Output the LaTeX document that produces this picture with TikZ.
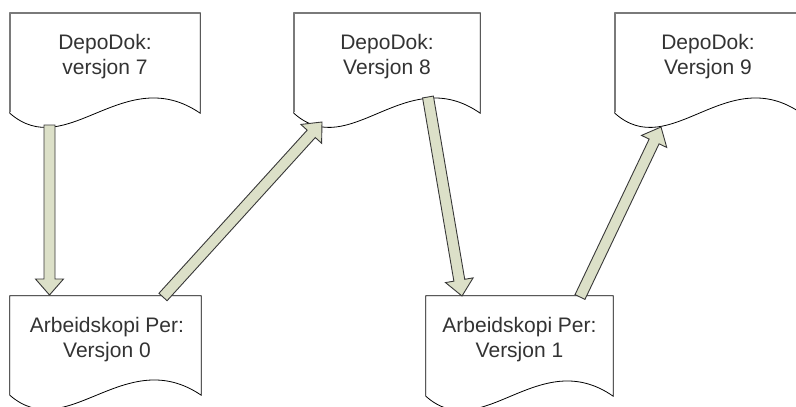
\documentclass[tikz,border=0pt]{standalone}
\usepackage{fontspec}
\setmainfont{Liberation Sans}
\usetikzlibrary{calc}
\definecolor{arrowfill}{HTML}{DCE0C8}
\definecolor{arrowline}{HTML}{383838}
\definecolor{txt}{HTML}{333333}
\definecolor{topedge}{HTML}{7A7A7A}
\tikzset{
  docarea/.style={rectangle, inner sep=0pt, minimum width=#1, minimum height=100pt},
  docline/.style={draw=black, line width=0.8pt, fill=white, line join=miter},
  topline/.style={draw=topedge, line width=2.6pt},
  sideline/.style={draw=topedge, line width=1.4pt},
  doctext/.style={anchor=north, inner sep=0pt, align=center, text=txt,
    font=\fontsize{21}{25}\selectfont},
  arrowbox/.style={draw=arrowline, line width=0.9pt, fill=arrowfill, line join=miter}
}
\newcommand{\docpath}[1]{%
  \draw[docline] (#1.north west) -- (#1.north east) -- (#1.south east)
    .. controls ($(#1.south west)!0.6!(#1.south east)+(0,-52)$)
       and ($(#1.south west)!0.3!(#1.south east)+(0,50)$) .. (#1.south west) -- cycle;}
\newcommand{\blockarrow}[2]{%
  \coordinate (h#1#2) at ($(#2)!16pt!(#1)$);
  \draw[arrowbox] ($(#1)!5.5pt!90:(#2)$) -- ($(h#1#2)!5.5pt!90:(#2)$)
    -- ($(h#1#2)!14pt!90:(#2)$) -- (#2) -- ($(h#1#2)!14pt!-90:(#2)$)
    -- ($(h#1#2)!5.5pt!-90:(#2)$) -- ($(#1)!5.5pt!-90:(#2)$) -- cycle;}
\begin{document}
\begin{tikzpicture}[x=1pt, y=-1pt]
\useasboundingbox (0,0) rectangle (796,407);
\fill[white] (0,0) rectangle (796,407);
\clip (0,0) rectangle (796,407);

% document areas
\node[docarea=190pt] (d7) at (105,63) {};
\node[docarea=186pt] (d8) at (387,63) {};
\node[docarea=186pt] (d9) at (708,63) {};
\node[docarea=191pt, minimum height=99pt] (w0) at (105.5,345.5) {};
\node[docarea=187pt] (w1) at (519.5,346) {};

\foreach \d in {d7,d8,d9,w0,w1} {\docpath{\d}}
\foreach \d in {d7,d8,d9} {
  \draw[topline] (\d.north west) -- (\d.north east);
  \draw[sideline] (\d.north west) -- ($(\d.south west)+(0,-1)$);
}

% texts
\node[doctext] (t7) at (105,33.7) {DepoDok:\\versjon 7};
\node[doctext] (t8) at (387,33.7) {DepoDok:\\Versjon 8};
\node[doctext] (t9) at (708,33.7) {DepoDok:\\Versjon 9};
\node[doctext] (t0) at (107,316.7) {Arbeidskopi Per:\\Versjon 0};
\node[doctext] (t1) at (519.5,316.7) {Arbeidskopi Per:\\Versjon 1};

% arrow end points
\coordinate (a1s) at (49.5,125);  \coordinate (a1e) at (49.5,295);
\coordinate (a2s) at (163,297);   \coordinate (a2e) at (322,122);
\coordinate (a3s) at (428,97);    \coordinate (a3e) at (462,296);
\coordinate (a4s) at (580,297);   \coordinate (a4e) at (661,127);

\blockarrow{a1s}{a1e}
\blockarrow{a2s}{a2e}
\blockarrow{a3s}{a3e}
\blockarrow{a4s}{a4e}
\end{tikzpicture}
\end{document}
